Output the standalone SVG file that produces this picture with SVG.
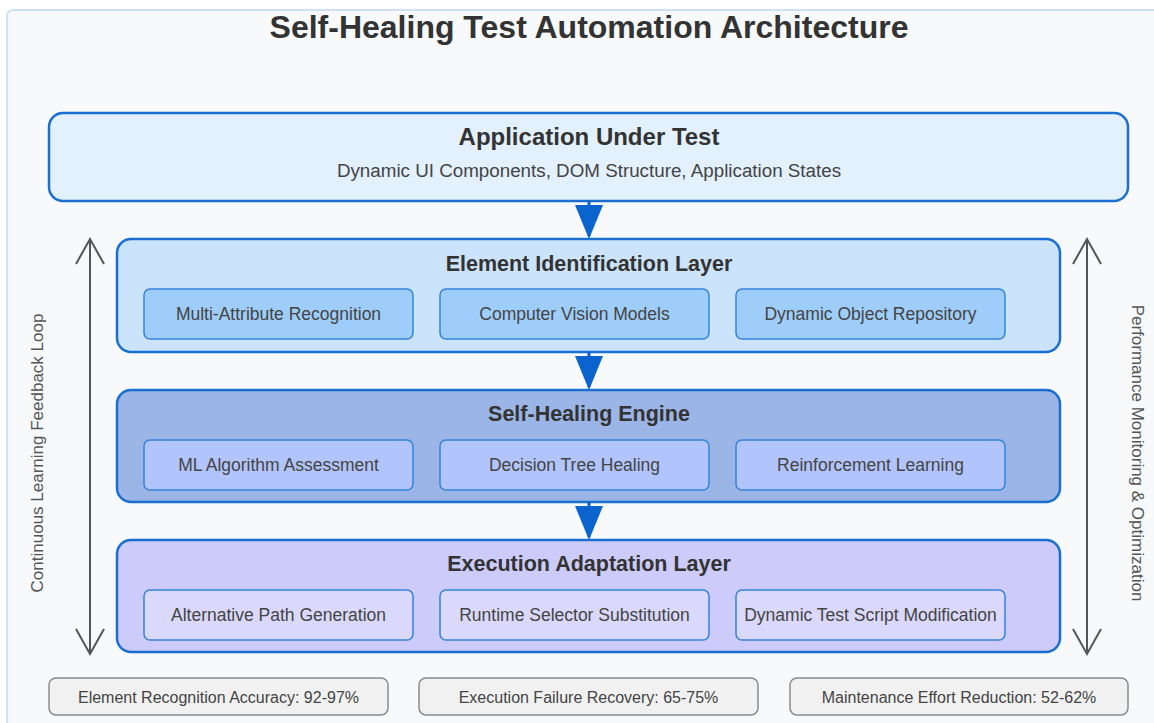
<svg xmlns="http://www.w3.org/2000/svg" width="1154" height="723" viewBox="0 0 1154 723">
  <defs>
    <style>
      .frame { fill: #f7f9fb; stroke: #cfe0f7; stroke-width: 2; }
      .layer { stroke: #1a6fd0; stroke-width: 2.5; }
      .comp { stroke: #3584da; stroke-width: 1.5; }
      .metric { fill: #f1f1f1; stroke: #8a8a8a; stroke-width: 1.5; }
      .title { font-family: "Liberation Sans", Arial, sans-serif; font-weight: bold; fill: #333; text-anchor: middle; }
      .label { font-family: "Liberation Sans", Arial, sans-serif; fill: #444; text-anchor: middle; }
      .side { font-family: "Liberation Sans", Arial, sans-serif; fill: #555; text-anchor: middle; font-size: 17px; }
      .flow { stroke: #0b63ce; stroke-width: 3; }
      .flowhead { fill: #0b63ce; }
      .loop { stroke: #555; stroke-width: 2; fill: none; }
    </style>
  </defs>

  <rect x="0" y="0" width="1154" height="723" fill="#ffffff"/>
  <rect class="frame" x="7" y="10" width="1170" height="740" rx="6"/>

  <text class="title" x="589" y="38" font-size="32">Self-Healing Test Automation Architecture</text>

  <g id="app-under-test">
    <rect class="layer" x="49" y="113" width="1079" height="88" rx="14" fill="#e3f0fd"/>
    <text class="title" x="589" y="145" font-size="24">Application Under Test</text>
    <text class="label" x="589" y="177" font-size="18.8" fill="#555">Dynamic UI Components, DOM Structure, Application States</text>
  </g>

  <g id="element-identification">
    <rect class="layer" x="117" y="239" width="943" height="113" rx="14" fill="#cce4fb"/>
    <text class="title" x="589" y="271" font-size="21.5">Element Identification Layer</text>
    <rect class="comp" x="144" y="289" width="269" height="50" rx="6" fill="#9fcdfa"/>
    <text class="label" x="278.5" y="320" font-size="17.5">Multi-Attribute Recognition</text>
    <rect class="comp" x="440" y="289" width="269" height="50" rx="6" fill="#9fcdfa"/>
    <text class="label" x="574.5" y="320" font-size="17.5">Computer Vision Models</text>
    <rect class="comp" x="736" y="289" width="269" height="50" rx="6" fill="#9fcdfa"/>
    <text class="label" x="870.5" y="320" font-size="17.5">Dynamic Object Repository</text>
  </g>

  <g id="self-healing-engine">
    <rect class="layer" x="117" y="390" width="943" height="112" rx="14" fill="#9ab5e6"/>
    <text class="title" x="589" y="421" font-size="21.5">Self-Healing Engine</text>
    <rect class="comp" x="144" y="440" width="269" height="50" rx="6" fill="#b1c4fb"/>
    <text class="label" x="278.5" y="471" font-size="17.5">ML Algorithm Assessment</text>
    <rect class="comp" x="440" y="440" width="269" height="50" rx="6" fill="#b1c4fb"/>
    <text class="label" x="574.5" y="471" font-size="17.5">Decision Tree Healing</text>
    <rect class="comp" x="736" y="440" width="269" height="50" rx="6" fill="#b1c4fb"/>
    <text class="label" x="870.5" y="471" font-size="17.5">Reinforcement Learning</text>
  </g>

  <g id="execution-adaptation">
    <rect class="layer" x="117" y="540" width="943" height="112" rx="14" fill="#cdcbfa"/>
    <text class="title" x="589" y="571" font-size="21.5">Execution Adaptation Layer</text>
    <rect class="comp" x="144" y="590" width="269" height="50" rx="6" fill="#dad9fc"/>
    <text class="label" x="278.5" y="621" font-size="17.5">Alternative Path Generation</text>
    <rect class="comp" x="440" y="590" width="269" height="50" rx="6" fill="#dad9fc"/>
    <text class="label" x="574.5" y="621" font-size="17.5">Runtime Selector Substitution</text>
    <rect class="comp" x="736" y="590" width="269" height="50" rx="6" fill="#dad9fc"/>
    <text class="label" x="870.5" y="621" font-size="17.5">Dynamic Test Script Modification</text>
  </g>

  <g id="connectors">
    <line class="flow" x1="589" y1="201" x2="589" y2="236"/>
    <polygon class="flowhead" points="575,205 603,205 589,239"/>
    <line class="flow" x1="589" y1="352" x2="589" y2="387"/>
    <polygon class="flowhead" points="575,356 603,356 589,390"/>
    <line class="flow" x1="589" y1="502" x2="589" y2="537"/>
    <polygon class="flowhead" points="575,506 603,506 589,540"/>

    <line class="loop" x1="90" y1="239" x2="90" y2="654"/>
    <polyline class="loop" points="76,264 90,239 104,264"/>
    <polyline class="loop" points="76,629 90,654 104,629"/>

    <line class="loop" x1="1087" y1="239" x2="1087" y2="654"/>
    <polyline class="loop" points="1073,264 1087,239 1101,264"/>
    <polyline class="loop" points="1073,629 1087,654 1101,629"/>
  </g>

  <g id="feedback-label">
    <text class="side" transform="translate(43,453) rotate(-90)">Continuous Learning Feedback Loop</text>
  </g>
  <g id="monitoring-label">
    <text class="side" transform="translate(1132,453) rotate(90)">Performance Monitoring &amp; Optimization</text>
  </g>

  <g id="metric-accuracy">
    <rect class="metric" x="49" y="678" width="339" height="37" rx="7"/>
    <text class="label" x="218.5" y="703" font-size="16" fill="#333">Element Recognition Accuracy: 92-97%</text>
  </g>
  <g id="metric-recovery">
    <rect class="metric" x="419" y="678" width="339" height="37" rx="7"/>
    <text class="label" x="588.5" y="703" font-size="16" fill="#333">Execution Failure Recovery: 65-75%</text>
  </g>
  <g id="metric-maintenance">
    <rect class="metric" x="790" y="678" width="338" height="37" rx="7"/>
    <text class="label" x="959" y="703" font-size="16" fill="#333">Maintenance Effort Reduction: 52-62%</text>
  </g>
</svg>
